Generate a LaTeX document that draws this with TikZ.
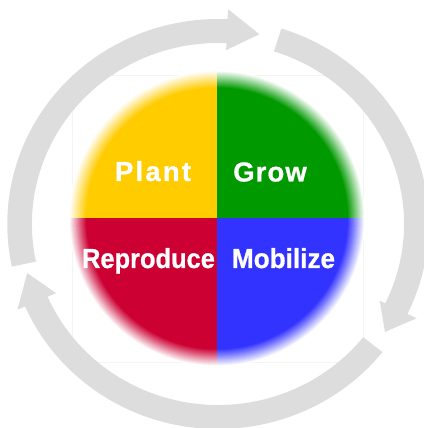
\documentclass[tikz,border=0pt]{standalone}
\usepackage{fontspec}
\setmainfont{Liberation Sans}

\definecolor{ringgray}{RGB}{221,221,221}
\definecolor{plantyellow}{RGB}{255,204,0}
\definecolor{growgreen}{RGB}{0,153,0}
\definecolor{reprored}{RGB}{204,0,51}
\definecolor{mobblue}{RGB}{51,51,255}
\definecolor{boxedge}{RGB}{244,244,244}

% one quadrant of the disc with a soft rim: nested fills fading to white
% #1 colour, #2 direction of the clipping square
\newcommand{\softquadrant}[2]{%
  \begin{scope}
    \clip (disc) rectangle ++(#2);
    \foreach \r in {148,147,...,131}{%
      \pgfmathtruncatemacro{\mix}{min(100,round((148-\r)*100/17))}%
      \fill[#1!\mix!white] (disc) circle[radius=\r];
    }
  \end{scope}}

\begin{document}
\begin{tikzpicture}[x=1pt,y=1pt,
  cyclearrow/.style={fill=ringgray},
  phase/.style={text=white,
    font=\fontsize{27.5}{30}\selectfont\bfseries\addfontfeature{FakeBold=0.8},
    inner sep=0pt, anchor=base}]
\useasboundingbox (0,0) rectangle (423,428);
\coordinate (disc) at (217,209.5);

% faint backing square
\draw[boxedge, line width=0.6pt] (72,66) rectangle (363,353);

% three curved arrows running clockwise round the disc
\begin{scope}[shift={(218,204)}, xscale=1.028]
  \fill[cyclearrow] (192:205) arc[start angle=192, end angle=87.4, radius=205]
    -- (87.4:215) -- (78:194) -- (87.4:174) -- (87.4:181)
    arc[start angle=87.4, end angle=192, radius=181] -- cycle;
  \fill[cyclearrow] (72.5:205) arc[start angle=72.5, end angle=-26, radius=205]
    -- (-26:215) -- (-33.6:195) -- (-26:175) -- (-26:181)
    arc[start angle=-26, end angle=72.5, radius=181] -- cycle;
  \fill[cyclearrow] (-38.7:205) arc[start angle=-38.7, end angle=-156.3, radius=205]
    -- (-156.3:213) -- (-165.2:192) -- (-156.3:172) -- (-156.3:181)
    arc[start angle=-156.3, end angle=-38.7, radius=181] -- cycle;
\end{scope}

% four quadrants of the disc
\softquadrant{plantyellow}{-160,160}
\softquadrant{growgreen}{160,160}
\softquadrant{reprored}{-160,-160}
\softquadrant{mobblue}{160,-160}

% phase names
\node[phase] (plant) at (153,247) {\addfontfeature{LetterSpace=8}Plant};
\node[phase] (grow) at (270,246.5) {\addfontfeature{LetterSpace=4}Grow};
\node[phase, xscale=0.925] (reproduce) at (148.5,160) {Reproduce};
\node[phase, xscale=0.95] (mobilize) at (283.5,160) {Mobilize};
\end{tikzpicture}
\end{document}
